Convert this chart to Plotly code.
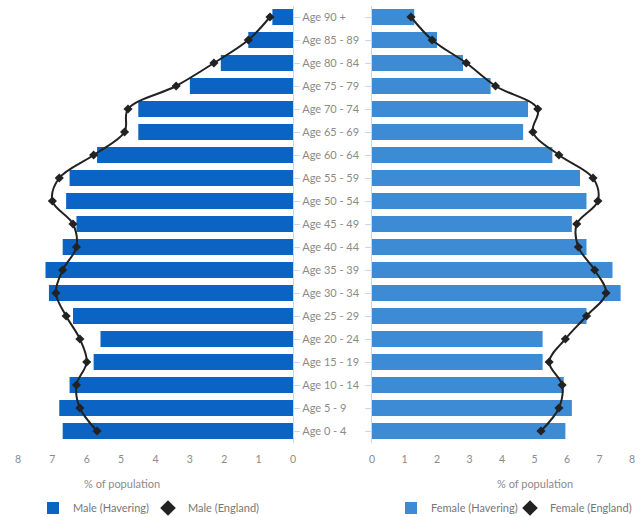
import plotly.graph_objects as go

ages = ["Age 0 - 4", "Age 5 - 9", "Age 10 - 14", "Age 15 - 19", "Age 20 - 24",
        "Age 25 - 29", "Age 30 - 34", "Age 35 - 39", "Age 40 - 44", "Age 45 - 49",
        "Age 50 - 54", "Age 55 - 59", "Age 60 - 64", "Age 65 - 69", "Age 70 - 74",
        "Age 75 - 79", "Age 80 - 84", "Age 85 - 89", "Age 90 +"]

male_havering = [6.7, 6.8, 6.5, 5.8, 5.6, 6.4, 7.1, 7.2, 6.7, 6.3,
                 6.6, 6.5, 5.7, 4.5, 4.5, 3.0, 2.1, 1.3, 0.6]
male_england = [5.7, 6.2, 6.3, 6.0, 6.2, 6.6, 6.9, 6.7, 6.3, 6.4,
                7.0, 6.8, 5.8, 4.9, 4.8, 3.4, 2.3, 1.3, 0.67]
female_havering = [5.95, 6.15, 5.9, 5.25, 5.25, 6.6, 7.65, 7.4, 6.6, 6.15,
                   6.6, 6.4, 5.55, 4.65, 4.8, 3.65, 2.8, 2.0, 1.3]
female_england = [5.2, 5.75, 5.85, 5.45, 5.95, 6.6, 7.2, 6.85, 6.35, 6.3,
                  6.95, 6.8, 5.75, 4.95, 5.1, 3.8, 2.9, 1.85, 1.2]

x_ticks = [0, 1, 2, 3, 4, 5, 6, 7, 8]

W, H = 640, 517


def px(x):
    return x / W


def py(y):
    return 1 - y / H


MALE_COL = "#0b63c4"
FEMALE_COL = "#3d8bd4"
LINE_COL = "#222222"
TXT = "#8a8a8a"
AXL = "#ccd6eb"

fig = go.Figure()

fig.add_trace(go.Bar(
    y=ages, x=male_havering, orientation="h", name="Male (Havering)",
    marker=dict(color=MALE_COL, line=dict(width=0)),
    xaxis="x", yaxis="y", legend="legend"))
fig.add_trace(go.Scatter(
    y=ages, x=male_england, mode="lines", name="Male (England)",
    line=dict(color=LINE_COL, width=2, shape="spline", smoothing=1),
    xaxis="x", yaxis="y", showlegend=False, legendgroup="me"))
fig.add_trace(go.Scatter(
    y=ages, x=male_england, mode="markers", name="Male (England)",
    marker=dict(symbol="diamond", size=7, color=LINE_COL),
    xaxis="x", yaxis="y", legend="legend", legendgroup="me",
    legendwidth=100))
fig.add_trace(go.Bar(
    y=ages, x=female_havering, orientation="h", name="Female (Havering)",
    marker=dict(color=FEMALE_COL, line=dict(width=0)),
    xaxis="x2", yaxis="y2", legend="legend2"))
fig.add_trace(go.Scatter(
    y=ages, x=female_england, mode="lines", name="Female (England)",
    line=dict(color=LINE_COL, width=2, shape="spline", smoothing=1),
    xaxis="x2", yaxis="y2", showlegend=False, legendgroup="fe"))
fig.add_trace(go.Scatter(
    y=ages, x=female_england, mode="markers", name="Female (England)",
    marker=dict(symbol="diamond", size=7, color=LINE_COL),
    xaxis="x2", yaxis="y2", legend="legend2", legendgroup="fe",
    legendwidth=100))

# row centres: 'Age 0 - 4' at y=431px, step 23px; plot area spans 5.5..442.5px
yrange = [-0.5, 18.5]
ydom = [py(442.5), py(5.5)]

font = dict(family="Lato, Open Sans, sans-serif", size=10.5, color=TXT)
yfont = dict(family="Lato, Open Sans, sans-serif", size=11, color=TXT)
lfont = dict(family="Lato, sans-serif", size=11, color="#777")
tfont = dict(family="Lato, sans-serif", size=11, color=TXT)

fig.update_layout(
    width=W, height=H,
    margin=dict(l=0, r=0, t=0, b=0, autoexpand=False),
    paper_bgcolor="white", plot_bgcolor="white",
    font=font,
    bargap=0.3,
    hovermode=False,
    xaxis=dict(domain=[px(18), px(293)], range=[8, 0], tickvals=x_ticks,
               showgrid=False, zeroline=False, showline=False, ticks="",
               ticklabelstandoff=9, tickfont=font, fixedrange=True,
               automargin=False),
    xaxis2=dict(domain=[px(372), px(632)], range=[0, 8], tickvals=x_ticks,
                showgrid=False, zeroline=False, showline=False, ticks="",
                ticklabelstandoff=9, tickfont=font, fixedrange=True,
                automargin=False),
    yaxis=dict(domain=ydom, anchor="x", side="right", type="category",
               categoryorder="array", categoryarray=ages,
               range=yrange, showgrid=False, zeroline=False,
               showline=True, linecolor=AXL, linewidth=1,
               ticks="outside", ticklen=6, tickcolor=AXL, fixedrange=True,
               ticklabelstandoff=0, tickfont=yfont, automargin=False),
    yaxis2=dict(domain=ydom, anchor="x2", side="left", type="category",
                categoryorder="array", categoryarray=ages,
                range=yrange, showgrid=False, zeroline=False,
                showline=True, linecolor=AXL, linewidth=1,
                ticks="outside", ticklen=6, tickcolor=AXL, fixedrange=True,
                showticklabels=False, automargin=False),
    legend=dict(orientation="h", x=px(33), y=py(508), xanchor="left",
                yanchor="middle", font=lfont, itemsizing="constant",
                entrywidth=70, entrywidthmode="pixels",
                itemwidth=30, bgcolor="rgba(0,0,0,0)", tracegroupgap=0),
    legend2=dict(orientation="h", x=px(391), y=py(508), xanchor="left",
                 yanchor="middle", font=lfont, itemsizing="constant",
                 entrywidth=74, entrywidthmode="pixels",
                 itemwidth=30, bgcolor="rgba(0,0,0,0)", tracegroupgap=0),
    annotations=[
        dict(text="% of population", x=px(122), y=py(483), xref="paper", yref="paper",
             showarrow=False, xanchor="center", yanchor="middle", font=tfont),
        dict(text="% of population", x=px(535), y=py(483), xref="paper", yref="paper",
             showarrow=False, xanchor="center", yanchor="middle", font=tfont),
    ],
)

fig.write_html(
    "out.html",
    config={"displayModeBar": False},
    post_script="document.body.style.margin='0';document.body.style.overflow='hidden';",
)
